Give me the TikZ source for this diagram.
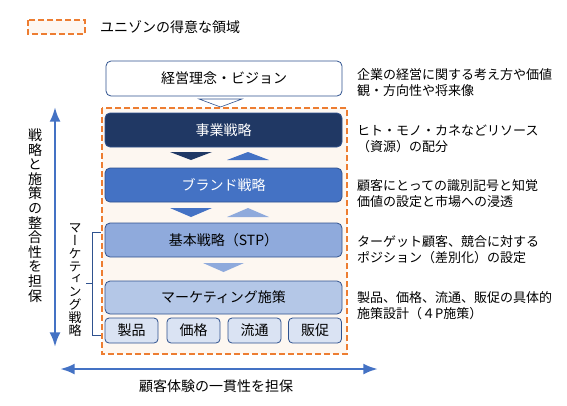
\documentclass[tikz,border=0pt]{standalone}
\usepackage{fontspec}
\usepackage{tikz}
\usetikzlibrary{arrows.meta,positioning}
\newfontfamily\jp{Noto Sans CJK JP}
\newfontfamily\jpv[RawFeature=+vert]{Noto Sans CJK JP}
\definecolor{NavyBlue}{HTML}{203864}
\definecolor{MidBlue}{HTML}{4472C4}
\definecolor{LightBlue}{HTML}{8FAADC}
\definecolor{PaleBlue}{HTML}{B4C7E7}
\definecolor{IceBlue}{HTML}{DAE3F3}
\definecolor{EdgeBlue}{HTML}{2F528F}
\definecolor{OrangeDash}{HTML}{ED7D31}
\definecolor{CreamFill}{HTML}{FDF7F1}

\begin{document}
\begin{tikzpicture}[
  x=1pt, y=-1pt,
  font=\jp\fontsize{14}{17}\selectfont,
  >=Latex,
  % strategy level box
  lvl/.style={draw=EdgeBlue, line width=0.8pt, rounded corners=5pt,
              minimum width=237pt, minimum height=34pt, inner sep=0pt},
  % 4P sub box
  sub/.style={draw=EdgeBlue, line width=0.8pt, rounded corners=4pt, fill=IceBlue,
              minimum width=53pt, minimum height=25pt, inner sep=0pt},
  % side note text
  note/.style={anchor=west, align=left, inner sep=0pt,
               font=\jp\fontsize{13}{16}\selectfont},
  % orange dashed zone
  zone/.style={draw=OrangeDash, fill=CreamFill, line width=1.8pt,
               dash pattern=on 6pt off 3pt},
  % blue double arrow
  span/.style={<->, draw=MidBlue, line width=2.6pt},
]
\useasboundingbox (0,0) rectangle (567,405);

%% ── Legend ────────────────────────────────────────────────────────────────
\draw[zone] (28,20) rectangle (85,34);
\node[anchor=west, inner sep=0pt] (legendText) at (100,27) {ユニゾンの得意な領域};

%% ── Zone of strength ──────────────────────────────────────────────────────
\draw[zone] (102,108) rectangle (347,354);

%% ── Strategy levels ───────────────────────────────────────────────────────
\node[lvl, fill=white, minimum width=236pt, minimum height=35pt] (vision) at (224,78.5) {経営理念・ビジョン};
\node[lvl, fill=NavyBlue, text=white] (bizStrat)   at (223.5,130) {事業戦略};
\node[lvl, fill=MidBlue, text=white]  (brandStrat) at (223.5,185) {ブランド戦略};
\node[lvl, fill=LightBlue]            (stpStrat)   at (223.5,240) {基本戦略（STP）};
\node[lvl, fill=PaleBlue, minimum height=33pt] (mktPlan) at (223.5,297.5) {マーケティング施策};

%% ── 4P boxes ──────────────────────────────────────────────────────────────
\node[sub] (pProduct) at (131.5,330.5) {製品};
\node[sub] (pPrice)   at (193.5,330.5) {価格};
\node[sub] (pPlace)   at (254.5,330.5) {流通};
\node[sub] (pPromo)   at (315,330.5)   {販促};

%% ── Flow triangles ────────────────────────────────────────────────────────
\filldraw[fill=white, draw=EdgeBlue, line width=0.6pt] (199,99) -- (242,99) -- (220.5,107) -- cycle;
\fill[NavyBlue]  (170,152) -- (212,152) -- (191,160) -- cycle;
\fill[MidBlue]   (227,160) -- (269,160) -- (248,152) -- cycle;
\fill[MidBlue]   (170,208) -- (212,208) -- (191,217) -- cycle;
\fill[LightBlue] (227,217) -- (269,217) -- (248,208) -- cycle;
\fill[LightBlue] (203,263) -- (244,263) -- (223.5,272) -- cycle;

%% ── Side notes ────────────────────────────────────────────────────────────
\node[note] (noteVision) at (357,82.5)  {企業の経営に関する考え方や価値\\観・方向性や将来像};
\node[note] (noteBiz)    at (357,138.5) {ヒト・モノ・カネなどリソース\\（資源）の配分};
\node[note] (noteBrand)  at (357,193.5) {顧客にとっての識別記号と知覚\\価値の設定と市場への浸透};
\node[note] (noteStp)    at (357,250)   {ターゲット顧客、競合に対する\\ポジション（差別化）の設定};
\node[note] (noteMkt)    at (357,305.5) {製品、価格、流通、販促の具体的\\施策設計（４P施策）};

%% ── Marketing strategy bracket ────────────────────────────────────────────
\draw[EdgeBlue, line width=0.6pt] (101,232) -- (92,232) -- (92,335) -- (101,335);
\draw[EdgeBlue, line width=0.6pt] (92,283) -- (86,283);
\node[align=center, inner sep=0pt, font=\jpv\fontsize{13}{12.9}\selectfont] (mktLabel) at (75,280)
  {マ\\ー\\ケ\\テ\\ィ\\ン\\グ\\戦\\略};

%% ── Consistency arrows ────────────────────────────────────────────────────
\coordinate (vTop) at (55,107);
\coordinate (vBot) at (55,347);
\draw[span] (vTop) -- (vBot);
\node[align=center, inner sep=0pt, font=\jpv\fontsize{14}{14.6}\selectfont] (vLabel) at (35,215.5)
  {戦\\略\\と\\施\\策\\の\\整\\合\\性\\を\\担\\保};

\coordinate (hLeft)  at (60,369);
\coordinate (hRight) at (378,369);
\draw[span] (hLeft) -- (hRight);
\node[inner sep=0pt] (hLabel) at (216,386) {顧客体験の一貫性を担保};

\end{tikzpicture}
\end{document}
